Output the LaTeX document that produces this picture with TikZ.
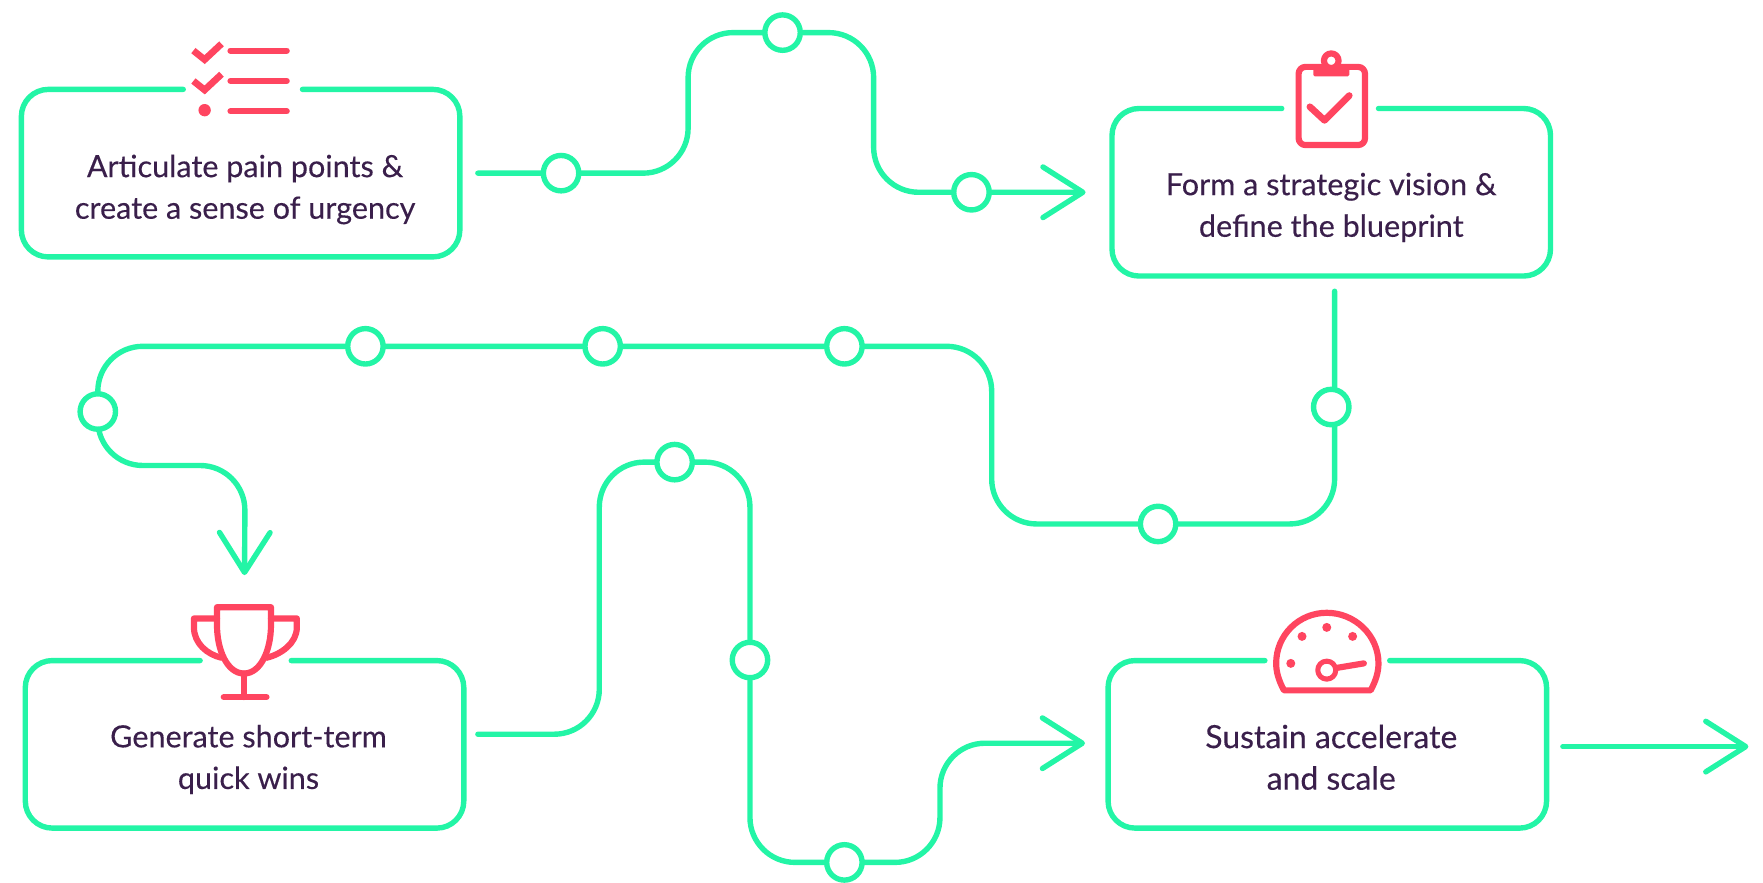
\documentclass[tikz,border=0pt]{standalone}
\usepackage{fontspec}
\setmainfont{Lato}[FakeBold=0.25]
\usetikzlibrary{arrows.meta,backgrounds,calc}
\definecolor{flowgreen}{HTML}{23F5A6}
\definecolor{iconred}{HTML}{FF4560}
\definecolor{inkpurple}{HTML}{3A1F4B}
\tikzset{
  flow/.style={draw=flowgreen,line width=4.8pt,line cap=round,line join=round},
  path40/.style={flow,rounded corners=40pt},
  arrowed/.style={-{Straight Barb[length=35.5pt,width=45pt,line cap=round,round]}},
  boxline/.style={flow,rounded corners=24pt},
  stepbox/.style={inner sep=0pt,outer sep=0pt,minimum width=390pt,minimum height=149pt},
  stop/.style={circle,draw=flowgreen,fill=white,line width=4.8pt,minimum size=31.5pt,inner sep=0pt},
  label/.style={text=inkpurple,align=center,inner sep=0pt,font=\fontsize{27.2}{37}\selectfont},
  icon/.style={draw=iconred,line width=5.5pt,line cap=round,line join=round},
  dotmark/.style={fill=iconred,draw=none}
}
\begin{document}
\begin{tikzpicture}[x=1pt,y=-1pt]
\useasboundingbox (0,0) rectangle (1568,785);
% step boxes
\node[stepbox] (b1) at (214,154) {};
\node[stepbox] (b2) at (1184,171) {};
\node[stepbox] (b3) at (217.5,662) {};
\node[stepbox] (b4) at (1180.5,662) {};
\node[label] (t1) at (218,168.5) {Articulate pain points \&\\create a sense of urgency};
\node[label] (t2) at (1184,184.5) {Form a strategic vision \&\\define the blueprint};
\node[label] (t3) at (221,675.5) {Generate short-term\\quick wins};
\node[label,font=\fontsize{28.4}{37}\selectfont] (t4) at (1184,673.5) {Sustain accelerate\\and scale};
% box outlines with a gap for the icon
\draw[boxline] (163,79.5) -- (b1.north west) -- (b1.south west) -- (b1.south east) -- (b1.north east) -- (269,79.5);
\draw[boxline] (1140,96.5) -- (b2.north west) -- (b2.south west) -- (b2.south east) -- (b2.north east) -- (1226,96.5);
\draw[boxline] (178,587.5) -- (b3.north west) -- (b3.south west) -- (b3.south east) -- (b3.north east) -- (259,587.5);
\draw[boxline] (1125,587.5) -- (b4.north west) -- (b4.south west) -- (b4.south east) -- (b4.north east) -- (1236,587.5);
% stops
\node[stop] (c1) at (499,154) {};
\node[stop] (c2) at (696,29) {};
\node[stop] (c3) at (864,171) {};
\node[stop] (c4) at (1184,362) {};
\node[stop] (c5) at (1030,466) {};
\node[stop] (c6) at (751,308) {};
\node[stop] (c7) at (536,308) {};
\node[stop] (c8) at (325,308) {};
\node[stop] (c9) at (87,366) {};
\node[stop] (c10) at (600,411) {};
\node[stop] (c11) at (667,587) {};
\node[stop] (c12) at (751,767) {};
% free ends
\coordinate (s1) at ($(b1.east)+(16,0)$);
\coordinate (e1) at ($(b2.west)+(-23.5,0)$);
\coordinate (s2) at (1187,259);
\coordinate (e2) at ($(b3.north)+(0,-76)$);
\coordinate (s3) at (425,653);
\coordinate (e3) at ($(b4.west)+(-20.5,-1)$);
\coordinate (s4) at (1390,664);
\coordinate (e4) at (1555,664);
% connectors
\begin{scope}[on background layer]
\draw[path40,arrowed] (s1) -- (c1.center) -- (612,154) -- (612,29) -- (c2.center) -- (777,29) -- (777,171) -- (c3.center) -- (e1);
\draw[path40,arrowed] (s2) -- (1187,466) -- (c5.center) -- (882,466) -- (882,308) -- (c6.center) -- (c7.center) -- (c8.center) -- (87,308) -- (87,414) -- (218,414) -- (e2);
\draw[path40,arrowed] (s3) -- (533,653) -- (533,411) -- (667,411) -- (667,767) -- (c12.center) -- (836,767) -- (836,661) -- (e3);
\draw[flow,arrowed] (s4) -- (e4);
\end{scope}
% icon 1: checklist
\draw[icon,line width=6pt,line cap=butt,line join=miter] (172,45) -- (182,53) -- (197,39);
\draw[icon,line width=6pt,line cap=butt,line join=miter] (172,72) -- (182,80) -- (197,66);
\fill[dotmark] (182,98) circle (5.5pt);
\draw[icon] (205,45) -- (255,45);
\draw[icon] (205,72) -- (255,72);
\draw[icon] (205,99) -- (255,99);
% icon 2: clipboard
\draw[icon,rounded corners=6pt] (1155,59.5) rectangle (1214,129);
\fill[iconred,rounded corners=1.5pt] (1168,58) rectangle (1200,68);
\draw[icon,fill=white] (1184,54) circle (6.5pt);
\draw[icon,line width=6pt] (1165,95) -- (1178,107) -- (1200,85);
% icon 3: trophy
\draw[icon] (193,540) -- (241,540) -- (241,556) .. controls (241,578) and (232,599) .. (217,599) .. controls (202,599) and (193,578) .. (193,556) -- cycle;
\draw[icon] (193,550) -- (172.5,550) -- (172.5,558) .. controls (172.5,572) and (184,582) .. (197,585);
\draw[icon] (241,550) -- (264,550) -- (264,558) .. controls (264,572) and (250,582) .. (237,585);
\draw[icon] (217,599) -- (217,620);
\draw[icon] (199,620) -- (237,620);
% icon 4: gauge
\draw[icon] (1142,614) .. controls (1137,605) and (1135,597) .. (1135,590) .. controls (1135,565) and (1155,545) .. (1180,545) .. controls (1205,545) and (1226,565) .. (1226,590) .. controls (1226,597) and (1224,605) .. (1219,614) -- cycle;
\fill[dotmark] (1180,558) circle (4pt);
\fill[dotmark] (1158,566) circle (4pt);
\fill[dotmark] (1203,566) circle (4pt);
\fill[dotmark] (1148,590) circle (4pt);
\draw[icon,line width=4.5pt] (1180,596) circle (8pt);
\draw[icon] (1189,594) -- (1213,590);
\end{tikzpicture}
\end{document}
